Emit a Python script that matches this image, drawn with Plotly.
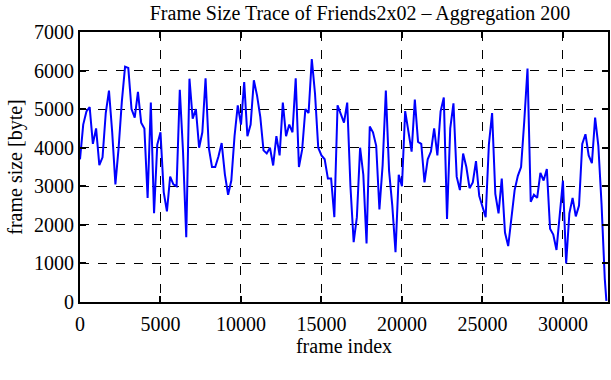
import plotly.graph_objects as go

frame_index = list(range(0, 32601, 200)) + [32700]
frame_size = [
    3700, 4600, 4940, 5050, 4100, 4500, 3550, 3750, 4900, 5480,
    4400, 3050, 4000, 5200, 6100, 6070, 5000, 4780, 5450, 4650,
    4500, 2700, 5170, 2300, 4080, 4400, 2850, 2350, 3250, 3050,
    3000, 5500, 3900, 1680, 5790, 4750, 5000, 4000, 4400, 5800,
    4000, 3500, 3500, 3770, 4120, 3310, 2780, 3150, 4300, 5100,
    4600, 5700, 4300, 4600, 5750, 5350, 4800, 3930, 3850, 4000,
    3540, 4300, 3800, 5170, 4300, 4600, 4400, 5800, 3500, 3950,
    5000, 4900, 6300, 5400, 4000, 3800, 3700, 3200, 3200, 2200,
    5100, 4900, 4650, 5170, 3000, 1550, 2200, 4000, 3300, 1520,
    4550, 4400, 4050, 2400, 3550, 5480, 3400, 2500, 1290, 3300,
    3000, 4950, 4400, 3900, 5250, 4150, 4100, 3100, 3700, 3900,
    4500, 3800, 4940, 5300, 2150, 4500, 5150, 3250, 2900, 3850,
    3500, 2950, 3100, 3650, 2750, 2500, 2200, 4080, 4900, 2800,
    2300, 3200, 1800, 1450, 2220, 2900, 3270, 3500, 4700, 6050,
    2600, 2780, 2700, 3350, 3150, 3450, 1900, 1750, 1350, 2200,
    3150, 1000, 2300, 2700, 2220, 2500, 4100, 4350, 3800, 3600,
    4780, 4050, 2530, 600, 30,
]

x_ticks = [0, 5000, 10000, 15000, 20000, 25000, 30000]
x_tick_labels = ["0", "5000", "10000", "15000", "20000", "25000", "30000"]
y_ticks = [0, 1000, 2000, 3000, 4000, 5000, 6000, 7000]
y_tick_labels = ["0", "1000", "2000", "3000", "4000", "5000", "6000", "7000"]

font_family = "Liberation Serif"
fs = 20

fig = go.Figure()
fig.add_trace(go.Scatter(
    x=frame_index, y=frame_size, mode="lines",
    line=dict(color="#0000ff", width=2),
    showlegend=False,
))

axis_common = dict(
    showline=True, linecolor="black", linewidth=2, mirror="ticks",
    ticks="inside", ticklen=6, tickwidth=1.5, tickcolor="black",
    showgrid=True, gridcolor="black", gridwidth=1, griddash="dash",
    zeroline=False, automargin=False,
    tickfont=dict(family=font_family, size=fs, color="black"),
)

fig.update_xaxes(
    range=[0, 32800], tickvals=x_ticks, ticktext=x_tick_labels,
    ticklabelstandoff=3,
    title=dict(text="frame index", font=dict(family=font_family, size=fs, color="black"), standoff=4),
    **axis_common,
)
fig.update_yaxes(
    range=[0, 7000], tickvals=y_ticks, ticktext=y_tick_labels,
    title=dict(text="frame size [byte]", font=dict(family=font_family, size=fs, color="black"), standoff=6),
    **axis_common,
)

fig.update_layout(
    width=611, height=380,
    paper_bgcolor="white", plot_bgcolor="white",
    margin=dict(l=80, r=3, t=32, b=78, autoexpand=False),
    title=dict(
        text="Frame Size Trace of Friends2x02 \u2013 Aggregation 200",
        font=dict(family=font_family, size=fs, color="black"),
        x=360 / 611, xanchor="center", y=1 - 13 / 380, yanchor="middle",
    ),
)

fig.write_html("out.html", config={"displayModeBar": False},
               post_script="document.body.style.margin='0';")
